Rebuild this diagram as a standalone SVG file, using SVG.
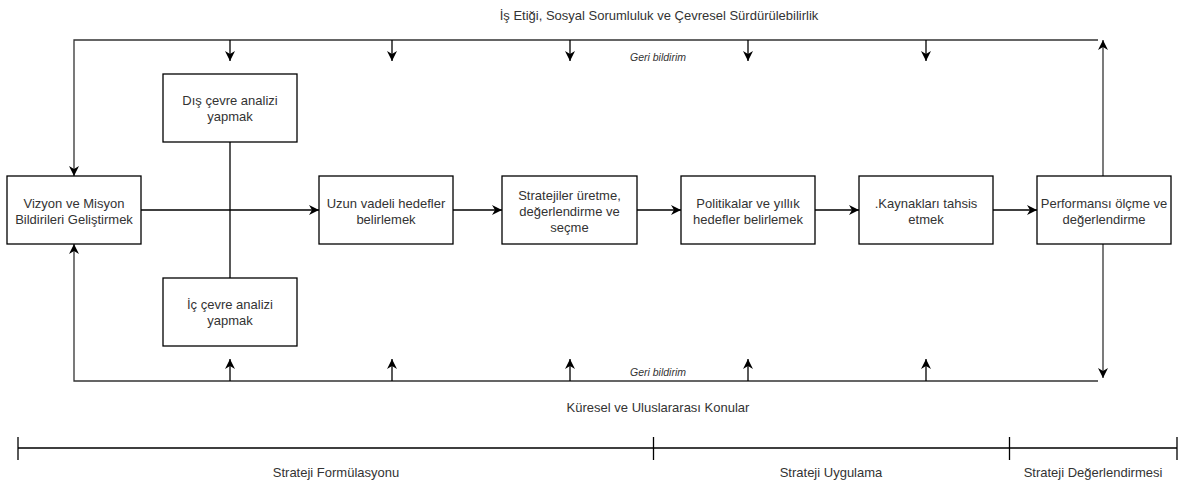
<svg xmlns="http://www.w3.org/2000/svg" width="1178" height="484" viewBox="0 0 1178 484">
<defs>
<marker id="arr" markerUnits="userSpaceOnUse" markerWidth="12" markerHeight="12" refX="10" refY="5" orient="auto" viewBox="0 0 12 10">
<path d="M0,0 L10,5 L0,10 L3,5 z" fill="#000"/>
</marker>
<style>
.box{fill:#fff;stroke:#000;stroke-width:1.3}
.ln{fill:none;stroke:#000;stroke-width:1.3}
.ol{fill:none;stroke:#333;stroke-width:1.3}
.t{font-family:"Liberation Sans",Arial,sans-serif;font-size:13px;fill:#333;text-anchor:middle}
.fb{font-family:"Liberation Sans",Arial,sans-serif;font-size:10.5px;font-style:italic;fill:#333;text-anchor:middle}
</style>
</defs>
<rect width="1178" height="484" fill="#fff"/>
<g id="connectors">
<path class="ol" d="M1098,40 L74,40 L74,176" marker-end="url(#arr)"/>
<path class="ol" d="M1098,381 L74,381 L74,244" marker-end="url(#arr)"/>
<path class="ol" d="M1103,176 L1103,40" marker-end="url(#arr)"/>
<path class="ol" d="M1103,244 L1103,378" marker-end="url(#arr)"/>
<path class="ln" d="M230,40 L230,61" marker-end="url(#arr)"/>
<path class="ln" d="M392,40 L392,61" marker-end="url(#arr)"/>
<path class="ln" d="M570,40 L570,61" marker-end="url(#arr)"/>
<path class="ln" d="M748,40 L748,61" marker-end="url(#arr)"/>
<path class="ln" d="M926,40 L926,61" marker-end="url(#arr)"/>
<path class="ln" d="M230,381 L230,359" marker-end="url(#arr)"/>
<path class="ln" d="M392,381 L392,359" marker-end="url(#arr)"/>
<path class="ln" d="M570,381 L570,359" marker-end="url(#arr)"/>
<path class="ln" d="M748,381 L748,359" marker-end="url(#arr)"/>
<path class="ln" d="M926,381 L926,359" marker-end="url(#arr)"/>
<path class="ln" d="M230,142 L230,278"/>
<path class="ln" d="M141,210 L319,210" marker-end="url(#arr)"/>
<path class="ln" d="M453,210 L502,210" marker-end="url(#arr)"/>
<path class="ln" d="M637,210 L681,210" marker-end="url(#arr)"/>
<path class="ln" d="M815,210 L859,210" marker-end="url(#arr)"/>
<path class="ln" d="M993,210 L1037,210" marker-end="url(#arr)"/>
<text class="fb" x="658" y="61">Geri bildirim</text>
<text class="fb" x="658" y="376">Geri bildirim</text>
</g>
<g id="n-vizyon"><rect class="box" x="7" y="176" width="134" height="68"/><text class="t" x="74" y="207.5">Vizyon ve Misyon</text><text class="t" x="74" y="223.5">Bildirileri Geliştirmek</text></g>
<g id="n-dis"><rect class="box" x="163" y="74" width="134" height="68"/><text class="t" x="230" y="104.5">Dış çevre analizi</text><text class="t" x="230" y="120.5">yapmak</text></g>
<g id="n-ic"><rect class="box" x="163" y="278" width="134" height="68"/><text class="t" x="230" y="308.5">İç çevre analizi</text><text class="t" x="230" y="324.5">yapmak</text></g>
<g id="n-uzun"><rect class="box" x="319" y="176" width="134" height="68"/><text class="t" x="386" y="207.5">Uzun vadeli hedefler</text><text class="t" x="386" y="223.5">belirlemek</text></g>
<g id="n-strateji"><rect class="box" x="502" y="176" width="135" height="68"/><text class="t" x="569.5" y="199.5">Stratejiler üretme,</text><text class="t" x="569.5" y="215.5">değerlendirme ve</text><text class="t" x="569.5" y="231.5">seçme</text></g>
<g id="n-politika"><rect class="box" x="681" y="176" width="134" height="68"/><text class="t" x="748" y="207.5">Politikalar ve yıllık</text><text class="t" x="748" y="223.5">hedefler belirlemek</text></g>
<g id="n-kaynak"><rect class="box" x="859" y="176" width="134" height="68"/><text class="t" x="926" y="207.5">.Kaynakları tahsis</text><text class="t" x="926" y="223.5">etmek</text></g>
<g id="n-performans"><rect class="box" x="1037" y="176" width="134" height="68"/><text class="t" x="1104" y="207.5">Performansı ölçme ve</text><text class="t" x="1104" y="223.5">değerlendirme</text></g>
<g id="labels">
<text class="t" x="659" y="19.5">İş Etiği, Sosyal Sorumluluk ve Çevresel Sürdürülebilirlik</text>
<text class="t" x="658" y="411.5">Küresel ve Uluslararası Konular</text>
</g>
<g id="timeline">
<path class="ln" d="M18,448 L1177,448 M18,437 L18,460 M653.5,437 L653.5,460 M1009.5,437 L1009.5,460 M1177,437 L1177,460"/>
<text class="t" x="336" y="477">Strateji Formülasyonu</text>
<text class="t" x="831" y="477">Strateji Uygulama</text>
<text class="t" x="1093" y="477">Strateji Değerlendirmesi</text>
</g>
</svg>
